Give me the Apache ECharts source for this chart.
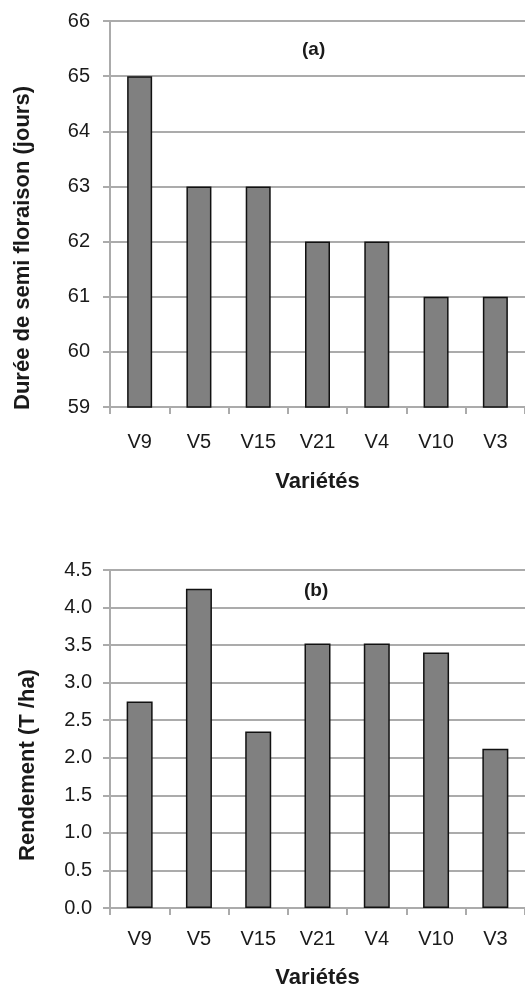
<!DOCTYPE html>
<html>
<head>
<meta charset="utf-8">
<script src="https://cdn.jsdelivr.net/npm/echarts@6/dist/echarts.min.js"></script>
<style>
  html, body { margin: 0; padding: 0; background: #fff; }
  #chart { width: 525px; height: 990px; }
</style>
</head>
<body>
<div id="chart"></div>
<script>
// Varieties, in the order shown on both panels
const varieties = ['V9', 'V5', 'V15', 'V21', 'V4', 'V10', 'V3'];
// (a) days to half flowering
const floweringDays = [65, 63, 63, 62, 62, 61, 61];
// (b) yield in tonnes per hectare
const yieldTHa = [2.75, 4.25, 2.35, 3.52, 3.52, 3.4, 2.12];

const FONT = '"Liberation Sans", Arial, sans-serif';
const TEXT = '#1a1a1a';
const GRID_LINE = '#ababab';

function xAxisFor(gridIndex, labelMargin, nameGap) {
  return {
    type: 'category',
    gridIndex: gridIndex,
    data: varieties,
    boundaryGap: true,
    axisLine: { lineStyle: { color: GRID_LINE, width: 2 } },
    axisTick: { show: true, length: 7, inside: false, lineStyle: { color: GRID_LINE, width: 2 } },
    axisLabel: { color: TEXT, fontFamily: FONT, fontSize: 20, margin: labelMargin },
    name: 'Variétés',
    nameLocation: 'middle',
    nameGap: nameGap,
    nameTextStyle: { color: TEXT, fontFamily: FONT, fontSize: 22, fontWeight: 'bold' }
  };
}

// namePad shifts the rotated axis title down along the axis
function yAxisFor(gridIndex, min, max, interval, name, nameGap, namePad, digits, labelMargin) {
  return {
    type: 'value',
    gridIndex: gridIndex,
    min: min,
    max: max,
    interval: interval,
    axisLine: { show: true, lineStyle: { color: GRID_LINE, width: 2 } },
    axisTick: { show: true, length: 7, lineStyle: { color: GRID_LINE, width: 2 } },
    splitLine: { show: true, lineStyle: { color: GRID_LINE, width: 2 } },
    axisLabel: {
      color: TEXT, fontFamily: FONT, fontSize: 20, margin: labelMargin,
      formatter: v => v.toFixed(digits)
    },
    name: name,
    nameLocation: 'middle',
    nameGap: nameGap,
    nameTextStyle: {
      color: TEXT, fontFamily: FONT, fontSize: 22, fontWeight: 'bold',
      padding: [0, namePad, 0, 0]
    }
  };
}

const barStyle = { color: '#808080', borderColor: '#111', borderWidth: 1.5 };

const chart = echarts.init(document.getElementById('chart'), null, { renderer: 'canvas' });
chart.setOption({
  animation: false,
  backgroundColor: '#fff',
  title: [
    { text: '(a)', left: 297, top: 35,
      textStyle: { color: TEXT, fontFamily: FONT, fontSize: 19, fontWeight: 'bold' } },
    { text: '(b)', left: 299, top: 576,
      textStyle: { color: TEXT, fontFamily: FONT, fontSize: 19, fontWeight: 'bold' } }
  ],
  grid: [
    { left: 110, top: 21, width: 417, height: 386 },
    { left: 110, top: 570, width: 415, height: 342 }
  ],
  xAxis: [
    xAxisFor(0, 25, 64),
    xAxisFor(1, 21, 59)
  ],
  yAxis: [
    yAxisFor(0, 59, 66, 1, 'Durée de semi floraison (jours)', 76, 68, 0, 20),
    yAxisFor(1, 0, 4.5, 0.5, 'Rendement (T /ha)', 71, 52, 1, 18)
  ],
  series: [
    { type: 'bar', xAxisIndex: 0, yAxisIndex: 0, data: floweringDays,
      barWidth: 25, itemStyle: barStyle },
    { type: 'bar', xAxisIndex: 1, yAxisIndex: 1, data: yieldTHa,
      barWidth: 26, itemStyle: barStyle }
  ]
});
</script>
</body>
</html>
